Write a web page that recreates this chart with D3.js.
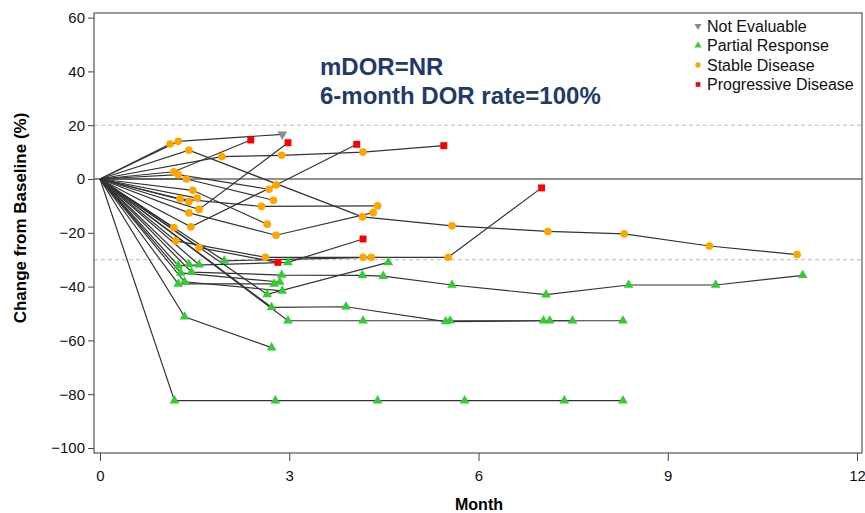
<!DOCTYPE html>
<html>
<head>
<meta charset="utf-8">
<script src="https://cdn.jsdelivr.net/npm/d3@7"></script>
<style>
  body { margin: 0; background: #fff; }
  text { font-family: "Liberation Sans", Arial, sans-serif; }
</style>
</head>
<body>
<script>
// each patient: list of [month, % change, response]  (NE / PR / SD / PD)
var patients = [
  [[1.24, 14.0, "SD"], [2.89, 16.6, "NE"]],
  [[1.11, 13.0, "SD"]],
  [[1.17, 2.7, "SD"], [2.39, 14.5, "PD"]],
  [[1.41, 10.7, "SD"], [4.16, -14.1, "SD"], [5.58, -17.4, "SD"], [7.10, -19.5, "SD"], [8.31, -20.4, "SD"], [9.66, -24.9, "SD"], [11.05, -28.1, "SD"]],
  [[1.93, 8.3, "SD"], [2.88, 8.8, "SD"], [4.17, 10.0, "SD"], [5.45, 12.4, "PD"]],
  [[1.24, 1.6, "SD"], [2.68, -3.8, "SD"]],
  [[1.44, -17.8, "SD"], [2.79, -2.2, "SD"], [4.07, 12.9, "PD"]],
  [[1.57, -11.3, "SD"], [2.98, 13.5, "PD"]],
  [[1.27, -7.4, "SD"], [2.56, -10.2, "SD"], [4.40, -10.0, "SD"]],
  [[1.37, 0.0, "SD"], [2.75, -7.9, "SD"]],
  [[1.54, -7.1, "SD"]],
  [[1.41, -8.4, "SD"]],
  [[1.47, -4.2, "SD"], [2.65, -16.8, "SD"]],
  [[1.41, -12.6, "SD"], [2.79, -20.9, "SD"], [4.33, -12.5, "SD"]],
  [[1.17, -18.1, "SD"]],
  [[1.20, -23.0, "SD"], [2.62, -29.1, "SD"], [4.17, -29.1, "SD"], [5.52, -29.1, "SD"], [7.00, -3.3, "PD"]],
  [[1.57, -25.5, "SD"], [2.82, -31.0, "PD"]],
  [[1.97, -30.4, "PR"], [4.30, -29.1, "SD"]],
  [[1.24, -32.2, "PR"], [2.98, -31.0, "PR"], [4.17, -22.3, "PD"]],
  [[1.41, -31.7, "PR"]],
  [[1.57, -31.9, "PR"]],
  [[1.45, -34.6, "PR"], [2.88, -35.7, "PR"], [4.16, -35.8, "PR"], [4.49, -36.1, "PR"], [5.58, -39.4, "PR"], [7.07, -43.0, "PR"], [8.38, -39.4, "PR"], [9.76, -39.4, "PR"], [11.14, -35.8, "PR"]],
  [[1.28, -34.9, "PR"], [2.85, -38.3, "PR"]],
  [[1.24, -39.0, "PR"], [2.76, -39.0, "PR"]],
  [[1.34, -38.2, "PR"], [2.89, -41.6, "PR"]],
  [[2.65, -42.9, "PR"], [4.57, -31.0, "PR"]],
  [[2.72, -47.7, "PR"], [3.90, -47.5, "PR"], [5.48, -53.0, "PR"], [7.03, -52.7, "PR"], [7.49, -52.7, "PR"]],
  [[2.98, -52.7, "PR"], [4.17, -52.7, "PR"], [5.55, -52.7, "PR"], [7.13, -52.7, "PR"], [8.29, -52.7, "PR"]],
  [[1.34, -51.2, "PR"], [2.72, -62.7, "PR"]],
  [[1.18, -82.4, "PR"], [2.78, -82.4, "PR"], [4.40, -82.4, "PR"], [5.78, -82.4, "PR"], [7.36, -82.4, "PR"], [8.29, -82.4, "PR"]]
];

var xTicks = [0, 3, 6, 9, 12];
var yTicks = [-100, -80, -60, -40, -20, 0, 20, 40, 60];
var refLines = [20, -30];
var legendKeys = ["NE", "PR", "SD", "PD"];
var legendLabels = ["Not Evaluable", "Partial Response", "Stable Disease", "Progressive Disease"];
var titleLines = ["mDOR=NR", "6-month DOR rate=100%"];

var W = 865, H = 513;
var frame = {left: 94, right: 862, top: 13, bottom: 453};

var x = d3.scaleLinear().domain([0, 12]).range([100, 857]);
var y = d3.scaleLinear().domain([-100, 60]).range([448, 17.6]);

var color = {NE: "#8c8c8c", PR: "#33cc33", SD: "#ffa500", PD: "#ff0000"};

var svg = d3.select("body").append("svg")
    .attr("width", W)
    .attr("height", H);

// reference lines
svg.selectAll("line.ref")
    .data(refLines)
    .enter()
    .append("line")
    .attr("x1", frame.left)
    .attr("x2", frame.right)
    .attr("y1", function(d) { return y(d); })
    .attr("y2", function(d) { return y(d); })
    .style("stroke", "#bbbbbb")
    .style("stroke-width", 1)
    .style("stroke-dasharray", "4,3");

svg.append("line")
    .attr("x1", frame.left)
    .attr("x2", frame.right)
    .attr("y1", y(0))
    .attr("y2", y(0))
    .style("stroke", "#222")
    .style("stroke-width", 1.2);

// axes
var yAxis = svg.append("g")
    .attr("transform", "translate(" + frame.left + ",0)")
    .call(d3.axisLeft(y).tickValues(yTicks).tickSize(6).tickPadding(3));
var xAxis = svg.append("g")
    .attr("transform", "translate(0," + frame.bottom + ")")
    .call(d3.axisBottom(x).tickValues(xTicks).tickSize(8).tickPadding(9));

[yAxis, xAxis].forEach(function(g) {
    g.select(".domain").remove();
    g.selectAll("line").style("stroke", "#444");
    g.selectAll("text")
        .style("font-family", "Liberation Sans, Arial, sans-serif")
        .style("font-size", "15px")
        .style("fill", "#111");
});

svg.append("rect")
    .attr("x", frame.left)
    .attr("y", frame.top)
    .attr("width", frame.right - frame.left)
    .attr("height", frame.bottom - frame.top)
    .style("fill", "none")
    .style("stroke", "#555")
    .style("stroke-width", 1.2);

// spider lines, all starting at baseline
var line = d3.line()
    .x(function(d) { return x(d[0]); })
    .y(function(d) { return y(d[1]); });

svg.selectAll("path.patient")
    .data(patients)
    .enter()
    .append("path")
    .attr("class", "patient")
    .attr("d", function(d) { return line([[0, 0]].concat(d)); })
    .style("fill", "none")
    .style("stroke", "#333")
    .style("stroke-width", 1.2);

var points = [];
patients.forEach(function(p) { p.forEach(function(d) { points.push(d); }); });

var sym = {
    NE: d3.symbol().type(d3.symbolTriangle).size(40),
    PR: d3.symbol().type(d3.symbolTriangle).size(40),
    SD: d3.symbol().type(d3.symbolCircle).size(46),
    PD: d3.symbol().type(d3.symbolSquare).size(48)
};

function drawMarker(sel) {
    sel.attr("d", function(d) { return sym[d[2]](); })
        .attr("transform", function(d) {
            return "translate(" + x(d[0]) + "," + y(d[1]) + ")" + (d[2] == "NE" ? " rotate(180)" : "");
        })
        .style("fill", function(d) { return color[d[2]]; });
}

svg.selectAll("path.pt")
    .data(points)
    .enter()
    .append("path")
    .attr("class", "pt")
    .call(drawMarker);

// legend
var leg = svg.selectAll("g.leg")
    .data(legendKeys)
    .enter()
    .append("g")
    .attr("transform", function(d, i) { return "translate(698," + (26 + i * 19.5) + ")"; });

leg.append("path")
    .attr("d", function(d) { return d3.symbol().type(d == "SD" ? d3.symbolCircle : d == "PD" ? d3.symbolSquare : d3.symbolTriangle).size(22)(); })
    .attr("transform", function(d) { return d == "NE" ? "rotate(180)" : null; })
    .style("fill", function(d) { return color[d]; });

leg.append("text")
    .attr("x", 9)
    .attr("y", 5.5)
    .style("font-size", "16px")
    .style("fill", "#111")
    .text(function(d, i) { return legendLabels[i]; });

// annotation
svg.selectAll("text.title")
    .data(titleLines)
    .enter()
    .append("text")
    .attr("x", 320)
    .attr("y", function(d, i) { return 74.5 + i * 29; })
    .style("font-size", "24px")
    .style("font-weight", "bold")
    .style("fill", "#1f3a6b")
    .text(function(d) { return d; });

// axis titles
svg.append("text")
    .attr("transform", "translate(26,218) rotate(-90)")
    .attr("text-anchor", "middle")
    .style("font-size", "17px")
    .style("font-weight", "bold")
    .text("Change from Baseline (%)");

svg.append("text")
    .attr("x", 479)
    .attr("y", 510)
    .attr("text-anchor", "middle")
    .style("font-size", "16px")
    .style("font-weight", "bold")
    .text("Month");
</script>
</body>
</html>
